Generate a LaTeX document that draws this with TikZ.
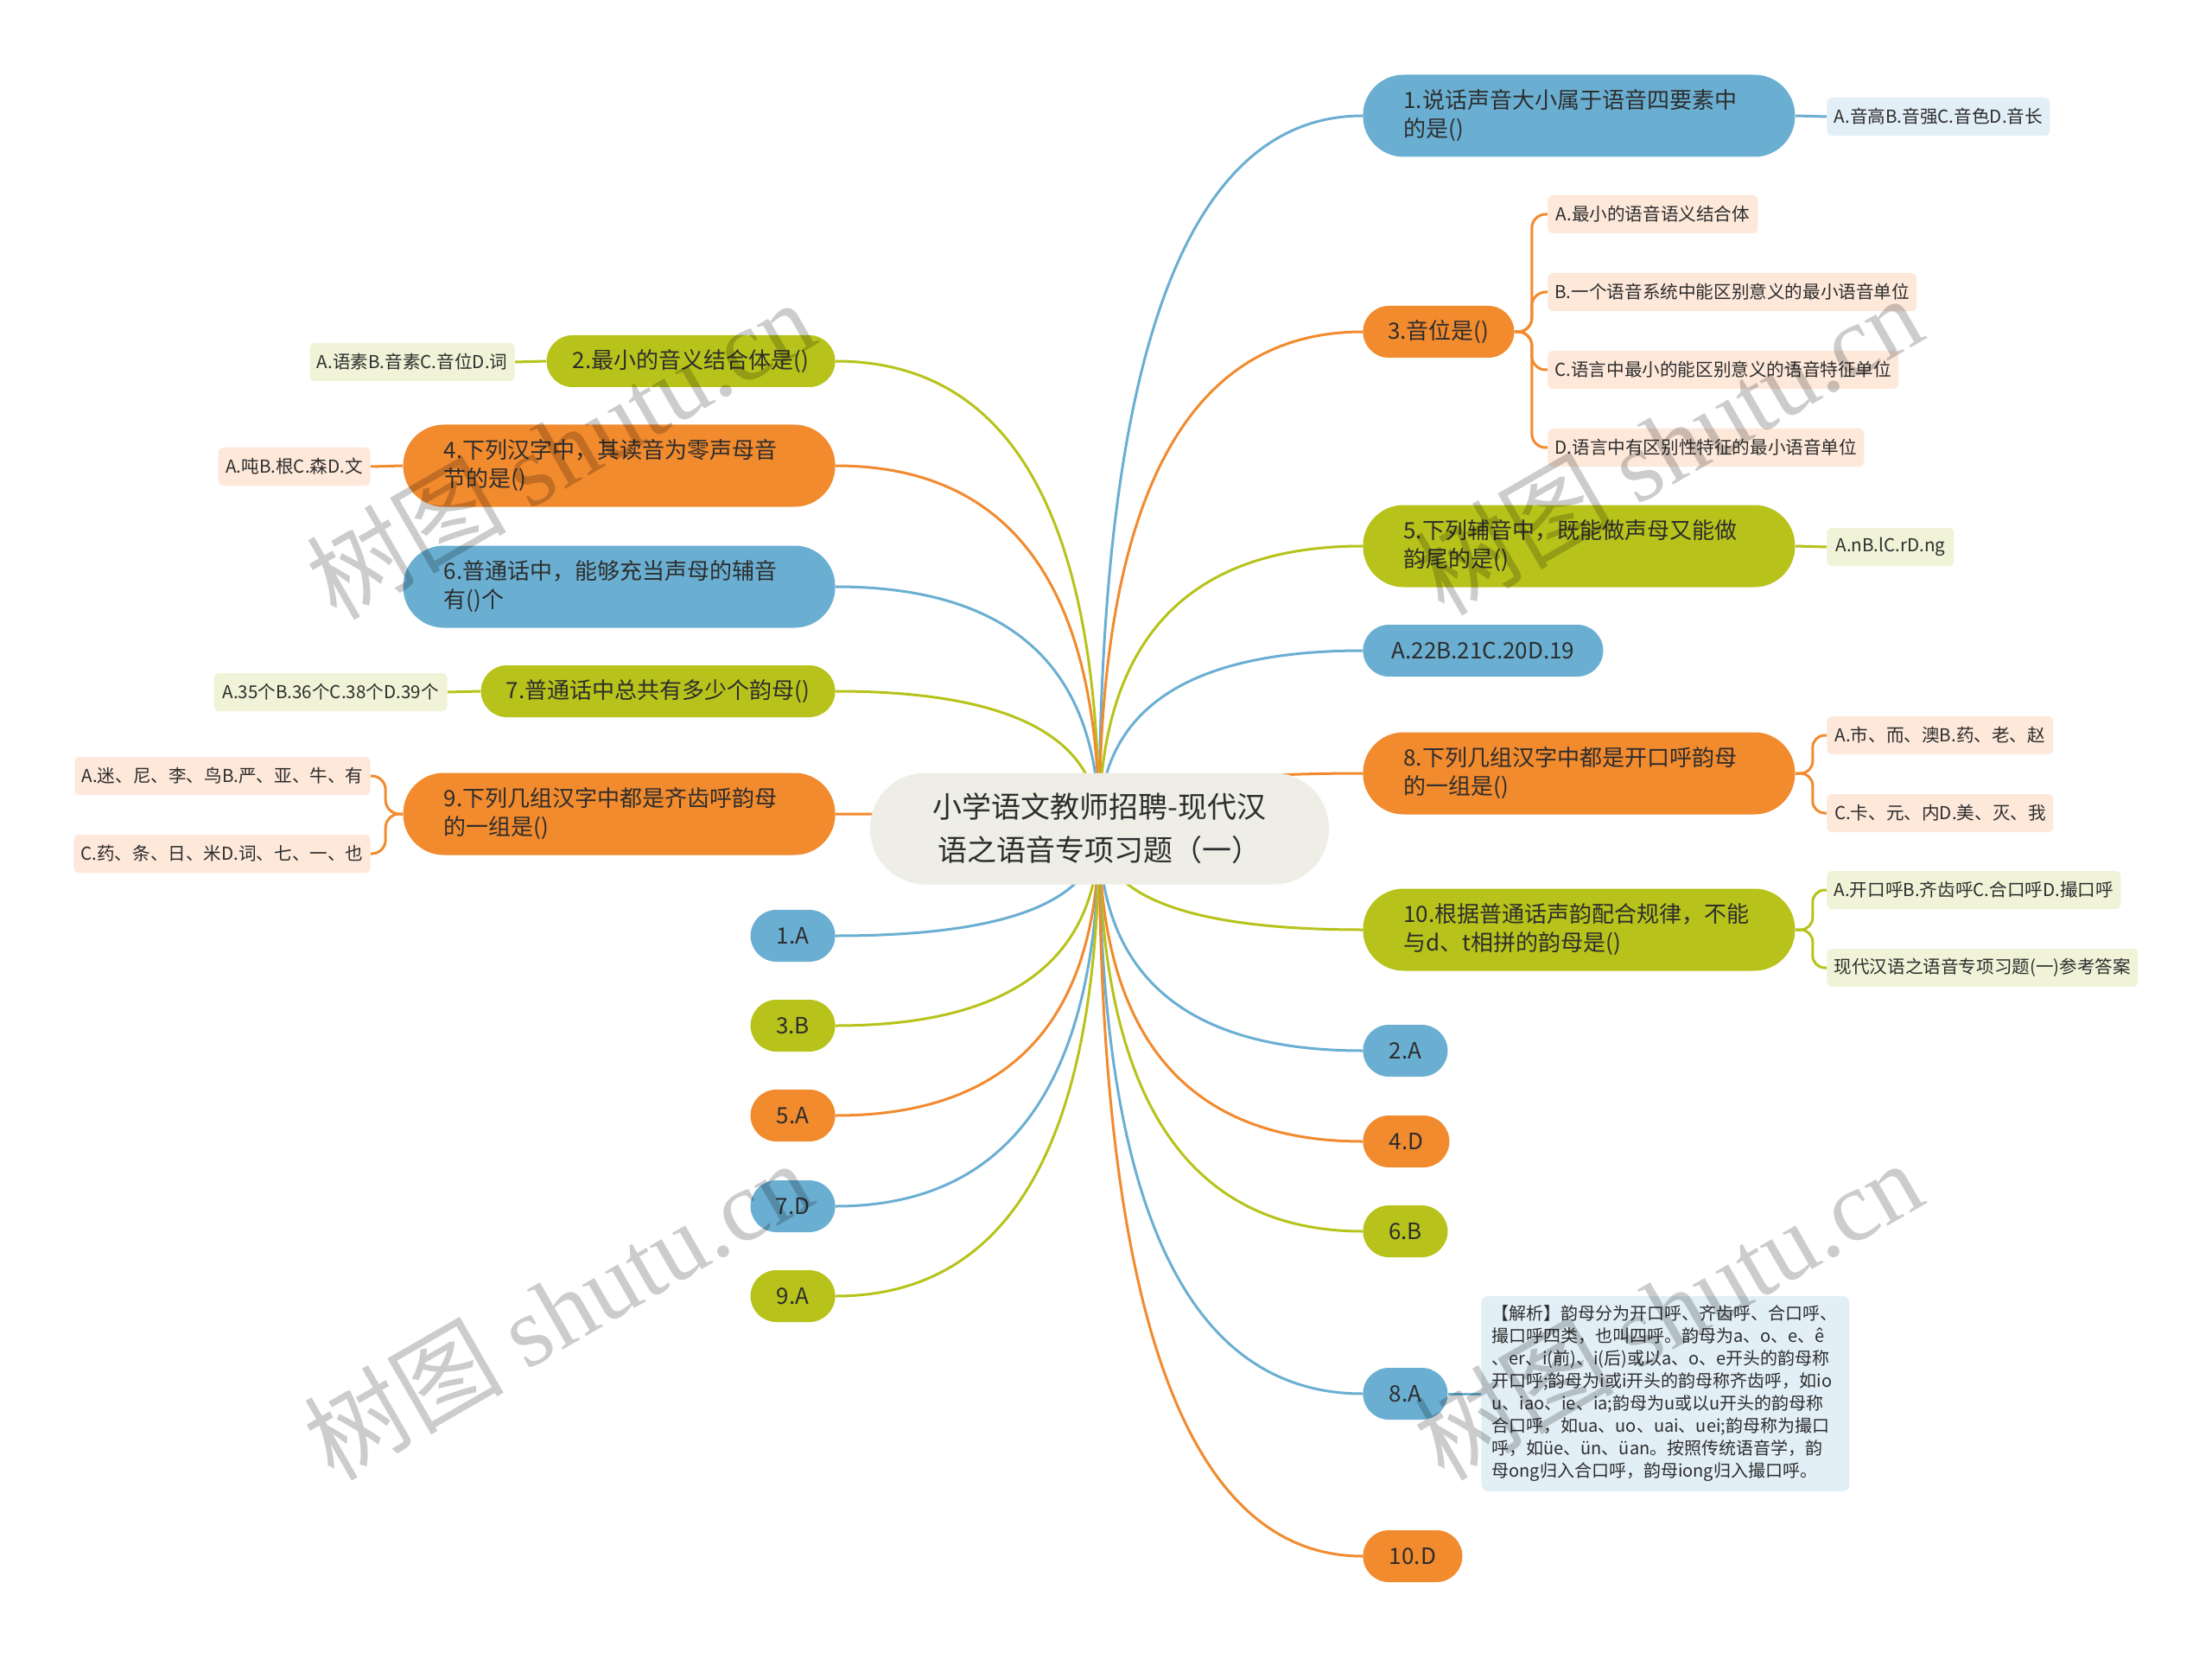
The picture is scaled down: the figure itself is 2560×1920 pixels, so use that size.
\documentclass[tikz,border=0pt]{standalone}
\usepackage{fontspec}
\setmainfont{Noto Sans CJK SC}
\newfontfamily\wmserif{Liberation Serif}
\usetikzlibrary{calc,backgrounds}
\definecolor{mblue}{RGB}{106,175,210}
\definecolor{morange}{RGB}{242,138,46}
\definecolor{mgreen}{RGB}{183,195,26}
\definecolor{lblue}{RGB}{226,239,247}
\definecolor{lorange}{RGB}{253,232,218}
\definecolor{lgreen}{RGB}{240,243,215}
\definecolor{ctrfill}{RGB}{238,238,230}
\definecolor{txt}{RGB}{45,45,45}
\newcommand\fsC{\fontsize{17pt}{25pt}\selectfont}
\newcommand\fsM{\fontsize{13pt}{16.5pt}\selectfont}
\newcommand\fsS{\fontsize{10.3pt}{13pt}\selectfont}
\newcommand\fsT{\fontsize{10pt}{13pt}\selectfont}
\newcommand\fsW{\fontsize{58pt}{58pt}\selectfont}
\newcommand\mmbranch[2]{\draw[lnk,#1] (o) .. controls ($(o)!2/3!(o |- #2)$) and ($(#2)!2/3!(o |- #2)$) .. (#2);}
\tikzset{
  ctrbox/.style={rectangle, rounded corners=32pt, fill=ctrfill, minimum width=265.5pt, minimum height=64.5pt, align=center, font=\fsC, text=txt, inner sep=0pt},
  twoline/.style={rectangle, rounded corners=23.5pt, minimum height=47.5pt, text width=203pt, inner xsep=23.5pt, inner ysep=0pt, align=left, font=\fsM, text=txt},
  pill/.style={rectangle, rounded corners=15pt, minimum height=30pt, inner xsep=6pt, inner ysep=0pt, font=\fsM, text=txt},
  leafbox/.style={rectangle, rounded corners=3pt, minimum height=22pt, inner xsep=4pt, inner ysep=0pt, font=\fsS, text=txt},
  notebox/.style={rectangle, rounded corners=4pt, fill=lblue, minimum width=212.5pt, minimum height=113pt, text width=201pt, inner xsep=6pt, align=left, font=\fsT, text=txt},
  lnk/.style={line width=1.5pt},
  wmark/.style={rotate=30, text=black, opacity=0.2, font=\fsW, inner sep=0pt}
}
\begin{document}
\begin{tikzpicture}[x=0.5pt,y=-0.5pt]
\useasboundingbox (0,0) rectangle (2560,1920);
\coordinate (o) at (1272,959);
% center
\node[ctrbox] (ctr) at (1272.5,959) {小学语文教师招聘-现代汉\\语之语音专项习题（一）};
% right side
\node[twoline, fill=mblue, anchor=west] (R1) at (1577,134) {1.说话声音大小属于语音四要素中\\的是()};
\node[leafbox, fill=lblue, anchor=west, minimum width=129pt] (R1l) at (2114,135) {A.音高B.音强C.音色D.音长};
\node[pill, fill=morange, anchor=west, minimum width=87.5pt] (R2) at (1577,384) {3.音位是()};
\node[leafbox, fill=lorange, anchor=west, minimum width=121.5pt] (R2a) at (1791,248) {A.最小的语音语义结合体};
\node[leafbox, fill=lorange, anchor=west, minimum width=212.5pt] (R2b) at (1791,338) {B.一个语音系统中能区别意义的最小语音单位};
\node[leafbox, fill=lorange, anchor=west, minimum width=201.5pt] (R2c) at (1791,428) {C.语言中最小的能区别意义的语音特征单位};
\node[leafbox, fill=lorange, anchor=west, minimum width=183pt] (R2d) at (1791,518) {D.语言中有区别性特征的最小语音单位};
\node[twoline, fill=mgreen, anchor=west] (R3) at (1577,632) {5.下列辅音中，既能做声母又能做\\韵尾的是()};
\node[leafbox, fill=lgreen, anchor=west, minimum width=73.5pt] (R3l) at (2114,633) {A.nB.lC.rD.ng};
\node[pill, fill=mblue, anchor=west, minimum width=139pt] (R4) at (1577,753) {A.22B.21C.20D.19};
\node[twoline, fill=morange, anchor=west] (R5) at (1577,895) {8.下列几组汉字中都是开口呼韵母\\的一组是()};
\node[leafbox, fill=lorange, anchor=west, minimum width=131pt] (R5a) at (2114,851) {A.市、而、澳B.药、老、赵};
\node[leafbox, fill=lorange, anchor=west, minimum width=131pt] (R5b) at (2114,941) {C.卡、元、内D.美、灭、我};
\node[twoline, fill=mgreen, anchor=west] (R6) at (1577,1076) {10.根据普通话声韵配合规律，不能\\与d、t相拼的韵母是()};
\node[leafbox, fill=lgreen, anchor=west, minimum width=170pt] (R6a) at (2114,1030) {A.开口呼B.齐齿呼C.合口呼D.撮口呼};
\node[leafbox, fill=lgreen, anchor=west, minimum width=180pt] (R6b) at (2114,1120) {现代汉语之语音专项习题(一)参考答案};
\node[pill, fill=mblue, anchor=west, minimum width=49pt] (R7) at (1577,1216) {2.A};
\node[pill, fill=morange, anchor=west, minimum width=50pt] (R8) at (1577,1321) {4.D};
\node[pill, fill=mgreen, anchor=west, minimum width=49pt] (R9) at (1577,1425) {6.B};
\node[pill, fill=mblue, anchor=west, minimum width=49pt] (R10) at (1577,1613) {8.A};
\node[notebox, anchor=west] (R10l) at (1714,1613) {【解析】韵母分为开口呼、齐齿呼、合口呼、\\撮口呼四类，也叫四呼。韵母为a、o、e、ê\\、er、i(前)、i(后)或以a、o、e开头的韵母称\\开口呼;韵母为i或i开头的韵母称齐齿呼，如io\\u、iao、ie、ia;韵母为u或以u开头的韵母称\\合口呼，如ua、uo、uai、uei;韵母称为撮口\\呼，如üe、ün、üan。按照传统语音学，韵\\母ong归入合口呼，韵母iong归入撮口呼。};
\node[pill, fill=morange, anchor=west, minimum width=57.5pt] (R11) at (1577,1801) {10.D};
% left side
\node[pill, fill=mgreen, anchor=east, minimum width=167pt] (L1) at (967,418) {2.最小的音义结合体是()};
\node[leafbox, fill=lgreen, anchor=east, minimum width=118.5pt] (L1l) at (596,419) {A.语素B.音素C.音位D.词};
\node[twoline, fill=morange, anchor=east] (L2) at (967,539) {4.下列汉字中，其读音为零声母音\\节的是()};
\node[leafbox, fill=lorange, anchor=east, minimum width=88pt] (L2l) at (429,540) {A.吨B.根C.森D.文};
\node[twoline, fill=mblue, anchor=east] (L3) at (967,679) {6.普通话中，能够充当声母的辅音\\有()个};
\node[pill, fill=mgreen, anchor=east, minimum width=205pt] (L4) at (967,800) {7.普通话中总共有多少个韵母()};
\node[leafbox, fill=lgreen, anchor=east, minimum width=135pt] (L4l) at (518,801) {A.35个B.36个C.38个D.39个};
\node[twoline, fill=morange, anchor=east] (L5) at (967,942) {9.下列几组汉字中都是齐齿呼韵母\\的一组是()};
\node[leafbox, fill=lorange, anchor=east, minimum width=171pt] (L5a) at (429,898) {A.迷、尼、李、鸟B.严、亚、牛、有};
\node[leafbox, fill=lorange, anchor=east, minimum width=171pt] (L5b) at (429,988) {C.药、条、日、米D.词、七、一、也};
\node[pill, fill=mblue, anchor=east, minimum width=49pt] (L6) at (967,1083) {1.A};
\node[pill, fill=mgreen, anchor=east, minimum width=49pt] (L7) at (967,1187) {3.B};
\node[pill, fill=morange, anchor=east, minimum width=49pt] (L8) at (967,1291) {5.A};
\node[pill, fill=mblue, anchor=east, minimum width=49pt] (L9) at (967,1396) {7.D};
\node[pill, fill=mgreen, anchor=east, minimum width=49pt] (L10) at (967,1500) {9.A};
% connectors
\begin{pgfonlayer}{background}
\fill[white] (0,0) rectangle (2560,1920);
\mmbranch{mblue}{R1.west}
\mmbranch{morange}{R2.west}
\mmbranch{mgreen}{R3.west}
\mmbranch{mblue}{R4.west}
\mmbranch{morange}{R5.west}
\mmbranch{mgreen}{R6.west}
\mmbranch{mblue}{R7.west}
\mmbranch{morange}{R8.west}
\mmbranch{mgreen}{R9.west}
\mmbranch{mblue}{R10.west}
\mmbranch{morange}{R11.west}
\mmbranch{mgreen}{L1.east}
\mmbranch{morange}{L2.east}
\mmbranch{mblue}{L3.east}
\mmbranch{mgreen}{L4.east}
\mmbranch{morange}{L5.east}
\mmbranch{mblue}{L6.east}
\mmbranch{mgreen}{L7.east}
\mmbranch{morange}{L8.east}
\mmbranch{mblue}{L9.east}
\mmbranch{mgreen}{L10.east}
\draw[lnk,mblue] (R1.east) -- (R1l.west);
\draw[lnk,mgreen] (R3.east) -- (R3l.west);
\draw[lnk,mblue] (R10.east) -- (R10l.west);
\draw[lnk,mgreen] (L1.west) -- (L1l.east);
\draw[lnk,morange] (L2.west) -- (L2l.east);
\draw[lnk,mgreen] (L4.west) -- (L4l.east);
\foreach \t in {R2a,R2b,R2c,R2d}
  \draw[lnk,morange,rounded corners=8pt] (R2.east) -- ++(10pt,0) |- (\t.west);
\foreach \t in {R5a,R5b}
  \draw[lnk,morange,rounded corners=7pt] (R5.east) -- ++(10pt,0) |- (\t.west);
\foreach \t in {R6a,R6b}
  \draw[lnk,mgreen,rounded corners=7pt] (R6.east) -- ++(10pt,0) |- (\t.west);
\foreach \t in {L5a,L5b}
  \draw[lnk,morange,rounded corners=8pt] (L5.west) -- ++(-10pt,0) |- (\t.east);
\end{pgfonlayer}
% watermarks
\node[wmark] (wm1) at (648,519) {树图 {\wmserif shutu.cn}};
\node[wmark] (wm2) at (645,1515) {树图 {\wmserif shutu.cn}};
\node[wmark] (wm3) at (1930,514) {树图 {\wmserif shutu.cn}};
\node[wmark] (wm4) at (1930,1515) {树图 {\wmserif shutu.cn}};
\end{tikzpicture}
\end{document}
